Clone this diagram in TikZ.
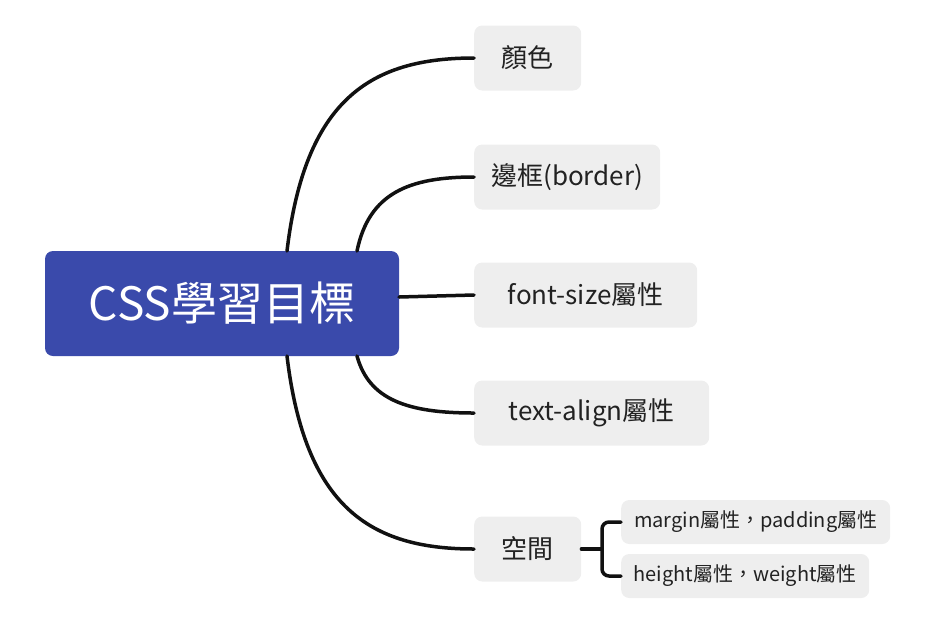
\documentclass[tikz,border=0pt]{standalone}
\usepackage{fontspec}
\setmainfont{Noto Sans CJK TC}
\definecolor{rootblue}{HTML}{3A4AAB}
\definecolor{boxgray}{HTML}{EEEEEE}
\definecolor{txt}{HTML}{222222}
\definecolor{linec}{HTML}{111111}
\begin{document}
\begin{tikzpicture}[x=1pt,y=-1pt,
  rootbox/.style={fill=rootblue,rounded corners=8,minimum width=354,minimum height=105,inner sep=0,text=white,font=\fontsize{46}{52}\selectfont},
  childbox/.style={fill=boxgray,rounded corners=8,minimum height=65,inner sep=0,anchor=west,text=txt,font=\fontsize{26}{30}\selectfont},
  leafbox/.style={fill=boxgray,rounded corners=8,minimum height=44,inner sep=0,anchor=west,text=txt,font=\fontsize{20}{24}\selectfont},
  conn/.style={draw=linec,line width=3.5,line cap=round}]
\useasboundingbox (0,0) rectangle (928,630);
\node[rootbox] (root) at (222,303.5) {CSS學習目標};
\node[childbox,minimum width=107] (c1) at (474,58) {顏色};
\node[childbox,minimum width=186] (c2) at (474,177) {邊框(border)};
\node[childbox,minimum width=223] (c3) at (474,295) {font-size屬性};
\node[childbox,minimum width=235] (c4) at (474,413) {text-align屬性};
\node[childbox,minimum width=107] (c5) at (474,549) {空間};
\node[leafbox,minimum width=269] (g1) at (621,522) {margin屬性，padding屬性};
\node[leafbox,minimum width=248] (g2) at (621,576) {height屬性，weight屬性};
\coordinate (r1) at (287,251);
\coordinate (r2) at (357,251);
\coordinate (r3) at (399,297);
\coordinate (r4) at (357,356);
\coordinate (r5) at (287,356);
\coordinate (br) at (602,549);
\path[conn] (r1) .. controls (305,100) and (370,58) .. (c1.west);
\path[conn] (r2) .. controls (369,193) and (409,177) .. (c2.west);
\path[conn] (r3) -- (c3.west);
\path[conn] (r4) .. controls (369,400) and (408,413) .. (c4.west);
\path[conn] (r5) .. controls (305,507) and (370,549) .. (c5.west);
\path[conn] (c5.east) -- (br);
\path[conn,rounded corners=7] (g1.west) -| (br) |- (g2.west);
\end{tikzpicture}
\end{document}
